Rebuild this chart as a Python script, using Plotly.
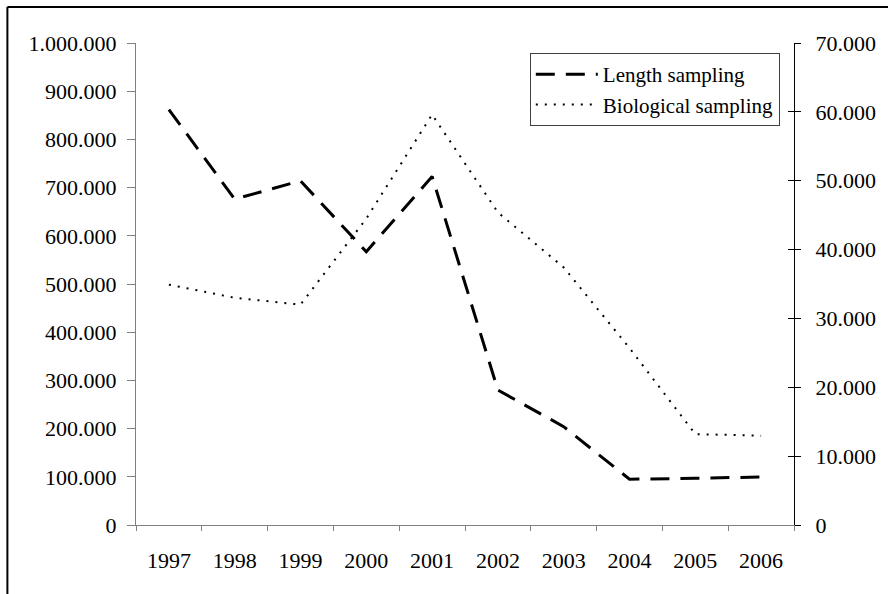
import plotly.graph_objects as go

# data
years = ["1997", "1998", "1999", "2000", "2001", "2002", "2003", "2004", "2005", "2006"]
length_sampling = [862000, 676000, 714000, 567000, 723000, 280000, 204000, 95000, 97000, 99500]
biological_sampling = [34900, 33000, 32000, 44500, 59600, 45400, 37400, 25700, 13200, 12970]

FONT = "Liberation Serif, Times New Roman, serif"

fig = go.Figure()

fig.add_trace(go.Scatter(
    x=years, y=length_sampling, mode="lines", name="Length sampling",
    line=dict(color="black", width=3, dash="19px,11px"),
    yaxis="y",
))
fig.add_trace(go.Scatter(
    x=years, y=biological_sampling, mode="lines", name="Biological sampling",
    line=dict(color="black", width=2, dash="2px,7px"),
    yaxis="y2",
))

# outer frame (top and left edges visible in the reference)
W, H = 888, 594
L, R, T, B = 136, 92, 43, 69
pw, ph = W - L - R, H - T - B


def px_x(v):
    return (v - L) / pw


def px_y(v):
    return (H - B - v) / ph


fig.add_shape(type="line", xref="paper", yref="paper",
              x0=px_x(7), x1=px_x(W + 5), y0=px_y(7), y1=px_y(7),
              line=dict(color="black", width=2))
fig.add_shape(type="line", xref="paper", yref="paper",
              x0=px_x(7), x1=px_x(7), y0=px_y(7), y1=px_y(H + 5),
              line=dict(color="black", width=2))

fig.update_layout(
    width=W, height=H,
    margin=dict(l=L, r=R, t=T, b=B),
    paper_bgcolor="white", plot_bgcolor="white",
    separators=",.",
    font=dict(family=FONT, size=22, color="black"),
    showlegend=True,
    legend=dict(
        x=px_x(531), y=px_y(53), xanchor="left", yanchor="top",
        bordercolor="#404040", borderwidth=1, bgcolor="white",
        font=dict(family=FONT, size=21, color="black"),
        itemwidth=62, tracegroupgap=0,
    ),
    xaxis=dict(
        type="category", showgrid=False, zeroline=False,
        showline=True, linecolor="#808080", linewidth=1,
        ticks="outside", ticklen=5, tickcolor="#808080", tickson="boundaries",
        ticklabelstandoff=16,
        range=[-0.5, 9.5],
    ),
    yaxis=dict(
        range=[0, 1000000], dtick=100000, tickformat=",.0f",
        showgrid=False, zeroline=False,
        showline=True, linecolor="#808080", linewidth=1,
        ticks="outside", ticklen=8, tickcolor="#808080",
        ticklabelstandoff=6,
    ),
    yaxis2=dict(
        range=[0, 70000], dtick=10000, tickformat=",.0f",
        overlaying="y", side="right", anchor="x",
        showgrid=False, zeroline=False,
        showline=True, linecolor="black", linewidth=1,
        ticks="outside", ticklen=6, tickcolor="black",
        ticklabelstandoff=10,
    ),
    yaxis3=dict(
        range=[0, 70000], dtick=10000,
        overlaying="y", side="right", anchor="x",
        showgrid=False, zeroline=False, showline=False,
        ticks="inside", ticklen=6, tickcolor="black",
        showticklabels=False,
    ),
)

# invisible trace so yaxis3 (inner half of the cross ticks) is drawn
fig.add_trace(go.Scatter(x=[years[0]], y=[0], yaxis="y3", mode="markers",
                         marker=dict(opacity=0), showlegend=False, hoverinfo="skip"))

fig.write_html("out.html", config={"displayModeBar": False},
               post_script="document.body.style.margin='0';")
